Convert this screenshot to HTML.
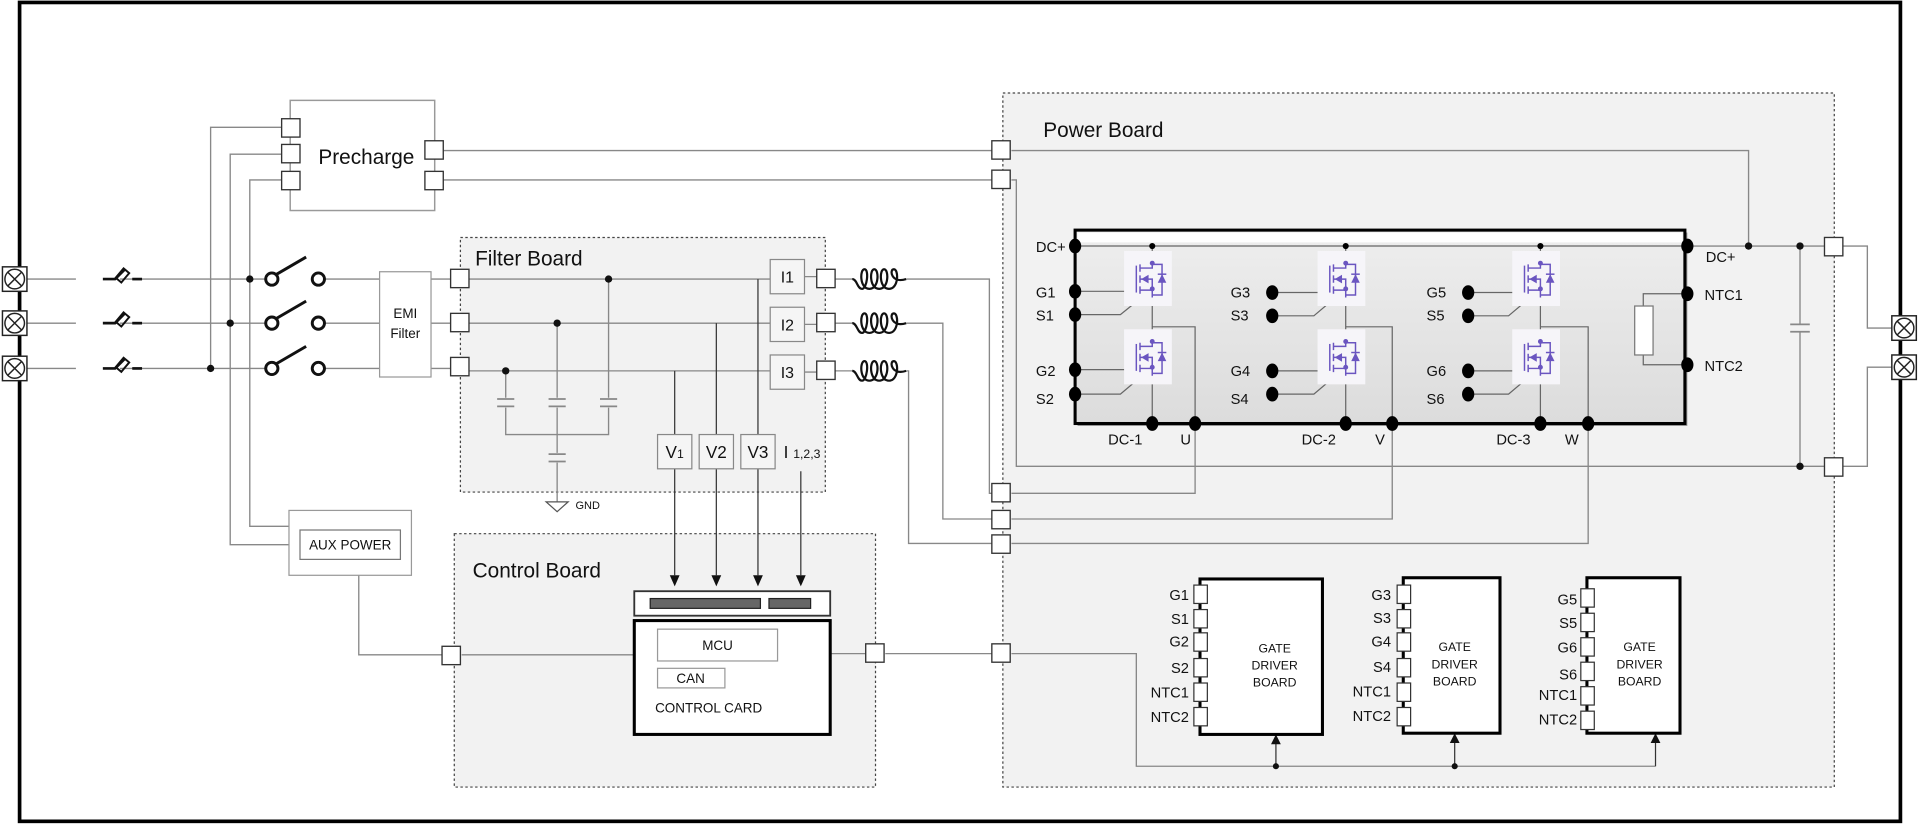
<!DOCTYPE html>
<html><head><meta charset="utf-8"><style>
html,body{margin:0;padding:0;background:#fff;}
svg{display:block;}
text{font-family:"Liberation Sans Narrow","Liberation Sans",sans-serif;fill:#111;}
</style></head><body>
<svg width="1920" height="825" viewBox="0 0 1568 674" preserveAspectRatio="none" xmlns="http://www.w3.org/2000/svg">
<defs>
<g id="term"><rect x="0" y="0" width="20" height="20" fill="#fff" stroke="#222" stroke-width="1.2"/><circle cx="10" cy="10" r="8" fill="#fff" stroke="#222" stroke-width="1.2"/><path d="M4.5 4.5L15.5 15.5M15.5 4.5L4.5 15.5" stroke="#222" stroke-width="1.2"/></g>
<g id="port"><rect x="0" y="0" width="15" height="15" fill="#fff" stroke="#333" stroke-width="1.1"/></g>
<g id="fet">
<rect x="0" y="0" width="39" height="45" fill="#f6f5f9"/>
<g stroke="#6a55c0" stroke-width="1.2" fill="none">
<path d="M10 12V34"/><path d="M13 11V17M13 20V26M13 29V35"/>
<path d="M13 14H23V10M13 32H23V38M13 23H23V32"/>
<path d="M23 11H31V36H23"/>
</g>
<path d="M14 23L20 19.5V26.5Z" fill="#6a55c0"/>
<path d="M31 19L27.5 26H34.5Z" fill="#6a55c0"/><path d="M27.5 19H34.5" stroke="#6a55c0" stroke-width="1.2"/>
<circle cx="23" cy="10" r="2" fill="#6a55c0"/><circle cx="23" cy="31" r="2" fill="#6a55c0"/>
</g>
<g id="sw"><circle cx="0" cy="0" r="5" fill="none" stroke="#111" stroke-width="2.4"/><circle cx="38" cy="0" r="5" fill="none" stroke="#111" stroke-width="2.4"/><path d="M4 -4L28 -18" stroke="#111" stroke-width="2.4"/></g>
<g id="fuse"><path d="M0 0H10L18 -8" stroke="#111" stroke-width="2.2" fill="none"/><path d="M24 0H32" stroke="#111" stroke-width="2.2"/><rect x="13" y="-8" width="6" height="10" transform="rotate(40 16 -3)" fill="none" stroke="#111" stroke-width="1.6"/></g>
<g id="cap"><path d="M-7 0H7M-7 6H7" stroke="#888" stroke-width="1.4"/></g>
<g id="ind"><path d="M0 0C4 0 4 8 8 8C12 8 14 -8 10 -8C6 -8 6 8 14 8C22 8 22 -8 18 -8C14 -8 14 8 22 8C30 8 30 -8 26 -8C22 -8 22 8 30 8C38 8 38 -8 34 -8C30 -8 32 4 44 0" fill="none" stroke="#111" stroke-width="1.8"/></g>
<linearGradient id="mg" x1="0" y1="0" x2="0" y2="1"><stop offset="0" stop-color="#eeeeee"/><stop offset="1" stop-color="#dcdcdc"/></linearGradient>
</defs>

<rect x="16" y="2" width="1536" height="669" fill="#fff" stroke="#000" stroke-width="3"/>

<rect x="376" y="194" width="298" height="208" fill="#f2f2f2" stroke="#444" stroke-width="1" stroke-dasharray="2,2"/>
<rect x="819" y="76" width="679" height="567" fill="#f2f2f2" stroke="#444" stroke-width="1" stroke-dasharray="2,2"/>
<rect x="371" y="436" width="344" height="207" fill="#f2f2f2" stroke="#444" stroke-width="1" stroke-dasharray="2,2"/>
<text x="388" y="217" font-size="17">Filter Board</text>
<text x="852" y="112" font-size="17">Power Board</text>
<text x="386" y="472" font-size="17">Control Board</text>

<rect x="237" y="82" width="118" height="90" fill="#fff" stroke="#999" stroke-width="1.2"/>
<text x="260" y="134" font-size="17">Precharge</text>

<g stroke="#888" stroke-width="1.1" fill="none">
<path d="M22 228H62M22 264H62M22 301H62"/>
<path d="M98 228H217M98 264H217M98 301H217"/>
<path d="M265 228H310M265 264H310M265 301H310M352 228H368M352 264H368M352 301H368"/>
<path d="M230 104H172V301"/>
<path d="M230 126H188V445H236"/>
<path d="M230 147H204V430H245"/>
<path d="M362 123H810M826 123H1428V201"/>
<path d="M362 147H810M826 147H830V381H1490"/>
<path d="M383 228H629M383 264H629M383 303H629"/>
<path d="M413 303V325M413 333V355H497V333M497 325V228"/>
<path d="M455 264V325M455 333V370M455 378V410"/>
<path d="M657 226H667M657 265H667M657 304H667"/>
<path d="M682 228H696M682 264H696M682 303H696"/>
<path d="M740 228H808V403H810M740 264H770V424H810M740 303H742V444H810"/>
<path d="M826 403H976V346M826 424H1137V346M826 444H1297V346"/>
<path d="M293 470V535H361M377 535H517M678 534H707M723 534H810M826 534H928V626H1352"/>
<path d="M1378 201H1490M1505 201H1525V268H1545M1505 381H1525V300H1545"/>
<path d="M1470 201V265M1470 271V381"/>
</g>
<g stroke="#333" stroke-width="1" fill="none">
<path d="M551 303V470M585 264V470M619 228V470M654 385V470M1042 626V606M1188 626V605M1352 626V605"/>
</g>
<g fill="#111">
<path d="M547 470H555L551 479Z"/><path d="M581 470H589L585 479Z"/><path d="M615 470H623L619 479Z"/><path d="M650 470H658L654 479Z"/>
<path d="M1038 608H1046L1042 600Z"/><path d="M1184 607H1192L1188 599Z"/><path d="M1348 607H1356L1352 599Z"/>
</g>
<use href="#cap" x="413" y="326"/><use href="#cap" x="455" y="326"/><use href="#cap" x="497" y="326"/><use href="#cap" x="455" y="371"/>
<path d="M1462 265H1478M1462 271H1478" stroke="#888" stroke-width="1.4"/>
<path d="M446 410H464L455 418Z" fill="#fff" stroke="#555" stroke-width="1"/>
<text x="470" y="416" font-size="9">GND</text>

<use href="#port" x="230" y="97"/><use href="#port" x="230" y="118"/><use href="#port" x="230" y="140"/>
<use href="#port" x="347" y="115"/><use href="#port" x="347" y="140"/>
<use href="#term" x="2" y="218"/><use href="#term" x="2" y="254"/><use href="#term" x="2" y="291"/>
<use href="#term" x="1545" y="258"/><use href="#term" x="1545" y="290"/>
<use href="#fuse" x="84" y="228"/><use href="#fuse" x="84" y="264"/><use href="#fuse" x="84" y="301"/>
<use href="#sw" x="222" y="228"/><use href="#sw" x="222" y="264"/><use href="#sw" x="222" y="301"/>
<g fill="#111"><circle cx="204" cy="228" r="3"/><circle cx="188" cy="264" r="3"/><circle cx="172" cy="301" r="3"/>
<circle cx="497" cy="228" r="3"/><circle cx="455" cy="264" r="3"/><circle cx="413" cy="303" r="3"/></g>

<rect x="310" y="222" width="42" height="86" fill="#fff" stroke="#999"/>
<text x="331" y="260" font-size="11" text-anchor="middle">EMI</text><text x="331" y="276" font-size="11" text-anchor="middle">Filter</text>
<use href="#port" x="368" y="220"/><use href="#port" x="368" y="256"/><use href="#port" x="368" y="292"/>
<g fill="#f5f5f5" stroke="#888"><rect x="629" y="212" width="28" height="28"/><rect x="629" y="251" width="28" height="28"/><rect x="629" y="290" width="28" height="28"/>
<rect x="537" y="355" width="28" height="28"/><rect x="571" y="355" width="28" height="28"/><rect x="605" y="355" width="28" height="28"/></g>
<text x="643" y="231" font-size="13" text-anchor="middle" font-family="Liberation Serif">I1</text>
<text x="643" y="270" font-size="13" text-anchor="middle" font-family="Liberation Serif">I2</text>
<text x="643" y="309" font-size="13" text-anchor="middle" font-family="Liberation Serif">I3</text>
<text x="551" y="374" font-size="14" text-anchor="middle">V<tspan font-size="10">1</tspan></text>
<text x="585" y="374" font-size="14" text-anchor="middle">V2</text>
<text x="619" y="374" font-size="14" text-anchor="middle">V3</text>
<text x="640" y="374" font-size="14" font-family="Liberation Serif">I <tspan font-size="10">1,2,3</tspan></text>
<use href="#port" x="667" y="220"/><use href="#port" x="667" y="256"/><use href="#port" x="667" y="295"/>
<use href="#ind" x="696" y="228"/><use href="#ind" x="696" y="264"/><use href="#ind" x="696" y="303"/>

<use href="#port" x="810" y="115"/><use href="#port" x="810" y="139"/>
<use href="#port" x="810" y="395"/><use href="#port" x="810" y="417"/><use href="#port" x="810" y="437"/>
<use href="#port" x="1490" y="194"/><use href="#port" x="1490" y="374"/>
<use href="#port" x="810" y="526"/><use href="#port" x="707" y="526"/><use href="#port" x="361" y="528"/>
<circle cx="1428" cy="201" r="3" fill="#111"/><circle cx="1470" cy="201" r="3" fill="#111"/><circle cx="1470" cy="381" r="3" fill="#111"/>

<rect x="880" y="190" width="498" height="158" fill="#999"/>
<rect x="878" y="188" width="498" height="158" fill="url(#mg)" stroke="#000" stroke-width="2.5"/>
<rect x="880" y="190" width="494" height="8" fill="#fff"/>
<g stroke="#666" stroke-width="1" fill="none">
<path d="M878 201H1378"/>
<path d="M941 201V346M1099 201V346M1258 201V346"/>
<path d="M878 238H928M878 302H928M1039 239H1086M1039 303H1086M1199 239H1245M1199 303H1245"/>
<path d="M878 257H915L941 236M878 322H915L941 300M1039 258H1073L1099 236M1039 322H1073L1099 300M1199 258H1232L1258 236M1199 322H1232L1258 300"/>
<path d="M941 267H976V346M1099 267H1137V346M1258 267H1297V346"/>
<path d="M1378 240H1342V250M1342 290V298H1378"/>
</g>
<rect x="1335" y="250" width="15" height="40" fill="#fff" stroke="#777"/>
<use href="#fet" x="918" y="205"/><use href="#fet" x="918" y="269"/>
<use href="#fet" x="1076" y="205"/><use href="#fet" x="1076" y="269"/>
<use href="#fet" x="1235" y="205"/><use href="#fet" x="1235" y="269"/>
<g fill="#000">
<circle cx="941" cy="201" r="2.5"/><circle cx="1099" cy="201" r="2.5"/><circle cx="1258" cy="201" r="2.5"/>
<ellipse cx="878" cy="201" rx="5" ry="6"/><ellipse cx="878" cy="238" rx="5" ry="6"/><ellipse cx="878" cy="257" rx="5" ry="6"/><ellipse cx="878" cy="302" rx="5" ry="6"/><ellipse cx="878" cy="322" rx="5" ry="6"/>
<ellipse cx="1378" cy="201" rx="5" ry="6"/><ellipse cx="1378" cy="240" rx="5" ry="6"/><ellipse cx="1378" cy="298" rx="5" ry="6"/>
<ellipse cx="1039" cy="239" rx="5" ry="6"/><ellipse cx="1039" cy="258" rx="5" ry="6"/><ellipse cx="1039" cy="303" rx="5" ry="6"/><ellipse cx="1039" cy="322" rx="5" ry="6"/>
<ellipse cx="1199" cy="239" rx="5" ry="6"/><ellipse cx="1199" cy="258" rx="5" ry="6"/><ellipse cx="1199" cy="303" rx="5" ry="6"/><ellipse cx="1199" cy="322" rx="5" ry="6"/>
<ellipse cx="941" cy="346" rx="5" ry="6"/><ellipse cx="976" cy="346" rx="5" ry="6"/><ellipse cx="1099" cy="346" rx="5" ry="6"/><ellipse cx="1137" cy="346" rx="5" ry="6"/><ellipse cx="1258" cy="346" rx="5" ry="6"/><ellipse cx="1297" cy="346" rx="5" ry="6"/>
</g>
<g font-size="12">
<text x="846" y="206">DC+</text><text x="846" y="243">G1</text><text x="846" y="262">S1</text><text x="846" y="307">G2</text><text x="846" y="330">S2</text>
<text x="1005" y="243">G3</text><text x="1005" y="262">S3</text><text x="1005" y="307">G4</text><text x="1005" y="330">S4</text>
<text x="1165" y="243">G5</text><text x="1165" y="262">S5</text><text x="1165" y="307">G6</text><text x="1165" y="330">S6</text>
<text x="905" y="363">DC-1</text><text x="964" y="363">U</text><text x="1063" y="363">DC-2</text><text x="1123" y="363">V</text><text x="1222" y="363">DC-3</text><text x="1278" y="363">W</text>
<text x="1393" y="214">DC+</text><text x="1392" y="245">NTC1</text><text x="1392" y="303">NTC2</text>
</g>

<rect x="236" y="417" width="100" height="53" fill="#fff" stroke="#999"/>
<rect x="245" y="433" width="82" height="24" fill="#fff" stroke="#777"/>
<text x="286" y="449" font-size="11" text-anchor="middle">AUX POWER</text>

<rect x="518" y="483" width="160" height="20" fill="#fff" stroke="#333" stroke-width="1.5"/>
<rect x="531" y="489" width="90" height="8" fill="#666" stroke="#222"/>
<rect x="628" y="489" width="34" height="8" fill="#666" stroke="#222"/>
<rect x="518" y="507" width="160" height="93" fill="#fff" stroke="#000" stroke-width="2.5"/>
<rect x="537" y="514" width="98" height="26" fill="#fff" stroke="#999"/>
<text x="586" y="531" font-size="11" text-anchor="middle">MCU</text>
<rect x="537" y="546" width="55" height="16" fill="#fff" stroke="#999"/>
<text x="564" y="558" font-size="11" text-anchor="middle">CAN</text>
<text x="535" y="582" font-size="11">CONTROL CARD</text>

<g fill="#fff" stroke="#000" stroke-width="2.5">
<rect x="980" y="473" width="100" height="127"/>
<rect x="1146" y="472" width="79" height="127"/>
<rect x="1296" y="472" width="76" height="127"/>
</g>
<g fill="#fff" stroke="#333" stroke-width="1">
<rect x="975" y="478" width="11" height="15"/><rect x="975" y="498" width="11" height="15"/><rect x="975" y="517" width="11" height="15"/><rect x="975" y="538" width="11" height="15"/><rect x="975" y="558" width="11" height="15"/><rect x="975" y="578" width="11" height="15"/>
<rect x="1141" y="478" width="11" height="15"/><rect x="1141" y="498" width="11" height="15"/><rect x="1141" y="517" width="11" height="15"/><rect x="1141" y="538" width="11" height="15"/><rect x="1141" y="558" width="11" height="15"/><rect x="1141" y="578" width="11" height="15"/>
<rect x="1291" y="481" width="11" height="15"/><rect x="1291" y="501" width="11" height="15"/><rect x="1291" y="521" width="11" height="15"/><rect x="1291" y="541" width="11" height="15"/><rect x="1291" y="561" width="11" height="15"/><rect x="1291" y="581" width="11" height="15"/>
</g>
<g font-size="12" text-anchor="end">
<text x="971" y="490">G1</text><text x="971" y="510">S1</text><text x="971" y="528">G2</text><text x="971" y="550">S2</text><text x="971" y="570">NTC1</text><text x="971" y="590">NTC2</text>
<text x="1136" y="490">G3</text><text x="1136" y="509">S3</text><text x="1136" y="528">G4</text><text x="1136" y="549">S4</text><text x="1136" y="569">NTC1</text><text x="1136" y="589">NTC2</text>
<text x="1288" y="494">G5</text><text x="1288" y="513">S5</text><text x="1288" y="533">G6</text><text x="1288" y="555">S6</text><text x="1288" y="572">NTC1</text><text x="1288" y="592">NTC2</text>
</g>
<g font-size="10" text-anchor="middle">
<text x="1041" y="533">GATE</text><text x="1041" y="547">DRIVER</text><text x="1041" y="561">BOARD</text>
<text x="1188" y="532">GATE</text><text x="1188" y="546">DRIVER</text><text x="1188" y="560">BOARD</text>
<text x="1339" y="532">GATE</text><text x="1339" y="546">DRIVER</text><text x="1339" y="560">BOARD</text>
</g>
<circle cx="1042" cy="626" r="2.5" fill="#111"/><circle cx="1188" cy="626" r="2.5" fill="#111"/>
</svg>
</body></html>
